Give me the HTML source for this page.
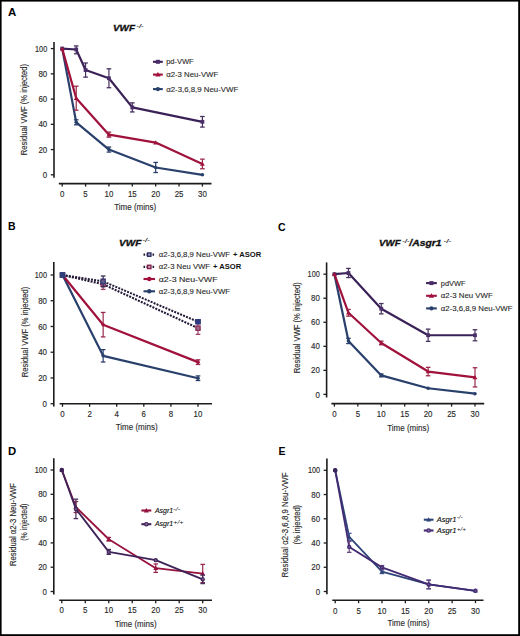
<!DOCTYPE html>
<html><head><meta charset="utf-8"><title>Figure</title>
<style>
html,body{margin:0;padding:0;background:#fff;}
body{width:520px;height:636px;overflow:hidden;}
svg{display:block;font-family:"Liberation Sans", sans-serif;}
</style></head><body>
<svg width="520" height="636" viewBox="0 0 520 636">
<rect x="0" y="0" width="520" height="636" fill="#ffffff"/>
<text x="8" y="16.4" font-size="11.5" text-anchor="start" font-weight="bold" font-style="normal" fill="#000" textLength="8.3" lengthAdjust="spacingAndGlyphs">A</text>
<text x="113" y="30.7" font-size="9.8" text-anchor="start" font-weight="bold" font-style="italic" fill="#111" textLength="22" lengthAdjust="spacingAndGlyphs" stroke="#111" stroke-width="0.35">VWF</text>
<text x="136.4" y="27.6" font-size="6" text-anchor="start" font-weight="bold" font-style="italic" fill="#222" textLength="7.3" lengthAdjust="spacingAndGlyphs">-/-</text>
<line x1="54" y1="42" x2="54" y2="177.7" stroke="#1c1c1c" stroke-width="1.6"/>
<line x1="50.8" y1="174.8" x2="54" y2="174.8" stroke="#1c1c1c" stroke-width="1.3"/>
<text x="47.2" y="177.9" font-size="8.6" text-anchor="end" font-weight="normal" font-style="normal" fill="#2a2a2a" textLength="4.4" lengthAdjust="spacingAndGlyphs" stroke="#2a2a2a" stroke-width="0.14">0</text>
<line x1="50.8" y1="149.56" x2="54" y2="149.56" stroke="#1c1c1c" stroke-width="1.3"/>
<text x="47.2" y="152.66" font-size="8.6" text-anchor="end" font-weight="normal" font-style="normal" fill="#2a2a2a" textLength="8.8" lengthAdjust="spacingAndGlyphs" stroke="#2a2a2a" stroke-width="0.14">20</text>
<line x1="50.8" y1="124.32" x2="54" y2="124.32" stroke="#1c1c1c" stroke-width="1.3"/>
<text x="47.2" y="127.42" font-size="8.6" text-anchor="end" font-weight="normal" font-style="normal" fill="#2a2a2a" textLength="8.8" lengthAdjust="spacingAndGlyphs" stroke="#2a2a2a" stroke-width="0.14">40</text>
<line x1="50.8" y1="99.08" x2="54" y2="99.08" stroke="#1c1c1c" stroke-width="1.3"/>
<text x="47.2" y="102.18" font-size="8.6" text-anchor="end" font-weight="normal" font-style="normal" fill="#2a2a2a" textLength="8.8" lengthAdjust="spacingAndGlyphs" stroke="#2a2a2a" stroke-width="0.14">60</text>
<line x1="50.8" y1="73.84" x2="54" y2="73.84" stroke="#1c1c1c" stroke-width="1.3"/>
<text x="47.2" y="76.94" font-size="8.6" text-anchor="end" font-weight="normal" font-style="normal" fill="#2a2a2a" textLength="8.8" lengthAdjust="spacingAndGlyphs" stroke="#2a2a2a" stroke-width="0.14">80</text>
<line x1="50.8" y1="48.6" x2="54" y2="48.6" stroke="#1c1c1c" stroke-width="1.3"/>
<text x="47.2" y="51.7" font-size="8.6" text-anchor="end" font-weight="normal" font-style="normal" fill="#2a2a2a" textLength="12.2" lengthAdjust="spacingAndGlyphs" stroke="#2a2a2a" stroke-width="0.14">100</text>
<line x1="58.8" y1="183.6" x2="211.5" y2="183.6" stroke="#1c1c1c" stroke-width="1.6"/>
<line x1="62.2" y1="183.6" x2="62.2" y2="186.6" stroke="#1c1c1c" stroke-width="1.3"/>
<text x="62.2" y="196.9" font-size="8.6" text-anchor="middle" font-weight="normal" font-style="normal" fill="#2a2a2a" textLength="4.4" lengthAdjust="spacingAndGlyphs" stroke="#2a2a2a" stroke-width="0.14">0</text>
<line x1="85.57" y1="183.6" x2="85.57" y2="186.6" stroke="#1c1c1c" stroke-width="1.3"/>
<text x="85.57" y="196.9" font-size="8.6" text-anchor="middle" font-weight="normal" font-style="normal" fill="#2a2a2a" textLength="4.4" lengthAdjust="spacingAndGlyphs" stroke="#2a2a2a" stroke-width="0.14">5</text>
<line x1="108.93" y1="183.6" x2="108.93" y2="186.6" stroke="#1c1c1c" stroke-width="1.3"/>
<text x="108.93" y="196.9" font-size="8.6" text-anchor="middle" font-weight="normal" font-style="normal" fill="#2a2a2a" textLength="8.8" lengthAdjust="spacingAndGlyphs" stroke="#2a2a2a" stroke-width="0.14">10</text>
<line x1="132.3" y1="183.6" x2="132.3" y2="186.6" stroke="#1c1c1c" stroke-width="1.3"/>
<text x="132.3" y="196.9" font-size="8.6" text-anchor="middle" font-weight="normal" font-style="normal" fill="#2a2a2a" textLength="8.8" lengthAdjust="spacingAndGlyphs" stroke="#2a2a2a" stroke-width="0.14">15</text>
<line x1="155.67" y1="183.6" x2="155.67" y2="186.6" stroke="#1c1c1c" stroke-width="1.3"/>
<text x="155.67" y="196.9" font-size="8.6" text-anchor="middle" font-weight="normal" font-style="normal" fill="#2a2a2a" textLength="8.8" lengthAdjust="spacingAndGlyphs" stroke="#2a2a2a" stroke-width="0.14">20</text>
<line x1="179.03" y1="183.6" x2="179.03" y2="186.6" stroke="#1c1c1c" stroke-width="1.3"/>
<text x="179.03" y="196.9" font-size="8.6" text-anchor="middle" font-weight="normal" font-style="normal" fill="#2a2a2a" textLength="8.8" lengthAdjust="spacingAndGlyphs" stroke="#2a2a2a" stroke-width="0.14">25</text>
<line x1="202.4" y1="183.6" x2="202.4" y2="186.6" stroke="#1c1c1c" stroke-width="1.3"/>
<text x="202.4" y="196.9" font-size="8.6" text-anchor="middle" font-weight="normal" font-style="normal" fill="#2a2a2a" textLength="8.8" lengthAdjust="spacingAndGlyphs" stroke="#2a2a2a" stroke-width="0.14">30</text>
<text x="135.2" y="210.1" font-size="9.4" text-anchor="middle" font-weight="normal" font-style="normal" fill="#2a2a2a" textLength="42" lengthAdjust="spacingAndGlyphs" stroke="#2a2a2a" stroke-width="0.14">Time (mins)</text>
<text x="27.2" y="109.6" font-size="9.2" text-anchor="middle" font-weight="normal" font-style="normal" fill="#2a2a2a" textLength="91.5" lengthAdjust="spacingAndGlyphs" stroke="#2a2a2a" stroke-width="0.14" transform="rotate(-90 27.2 109.6)">Residual VWF (% injected)</text>
<polyline points="62.2,48.6 76.22,49.48 85.57,70.05 108.93,78.26 132.3,107.41 202.4,121.8" fill="none" stroke="#3a2158" stroke-width="2.2" stroke-linejoin="round"/>
<line x1="76.22" y1="45.95" x2="76.22" y2="53.77" stroke="#46305e" stroke-width="1.2"/>
<line x1="73.92" y1="45.95" x2="78.52" y2="45.95" stroke="#46305e" stroke-width="1.3"/>
<line x1="73.92" y1="53.77" x2="78.52" y2="53.77" stroke="#46305e" stroke-width="1.3"/>
<line x1="85.57" y1="62.99" x2="85.57" y2="77.12" stroke="#46305e" stroke-width="1.2"/>
<line x1="83.27" y1="62.99" x2="87.87" y2="62.99" stroke="#46305e" stroke-width="1.3"/>
<line x1="83.27" y1="77.12" x2="87.87" y2="77.12" stroke="#46305e" stroke-width="1.3"/>
<line x1="108.93" y1="68.79" x2="108.93" y2="87.72" stroke="#46305e" stroke-width="1.2"/>
<line x1="106.63" y1="68.79" x2="111.23" y2="68.79" stroke="#46305e" stroke-width="1.3"/>
<line x1="106.63" y1="87.72" x2="111.23" y2="87.72" stroke="#46305e" stroke-width="1.3"/>
<line x1="132.3" y1="102.87" x2="132.3" y2="111.95" stroke="#46305e" stroke-width="1.2"/>
<line x1="130" y1="102.87" x2="134.6" y2="102.87" stroke="#46305e" stroke-width="1.3"/>
<line x1="130" y1="111.95" x2="134.6" y2="111.95" stroke="#46305e" stroke-width="1.3"/>
<line x1="202.4" y1="116.5" x2="202.4" y2="127.1" stroke="#46305e" stroke-width="1.2"/>
<line x1="200.1" y1="116.5" x2="204.7" y2="116.5" stroke="#46305e" stroke-width="1.3"/>
<line x1="200.1" y1="127.1" x2="204.7" y2="127.1" stroke="#46305e" stroke-width="1.3"/>
<rect x="60.3" y="46.7" width="3.8" height="3.8" fill="#4a2e6a"/>
<rect x="74.32" y="47.58" width="3.8" height="3.8" fill="#4a2e6a"/>
<rect x="83.67" y="68.15" width="3.8" height="3.8" fill="#4a2e6a"/>
<rect x="107.03" y="76.36" width="3.8" height="3.8" fill="#4a2e6a"/>
<rect x="130.4" y="105.51" width="3.8" height="3.8" fill="#4a2e6a"/>
<rect x="200.5" y="119.9" width="3.8" height="3.8" fill="#4a2e6a"/>
<polyline points="62.2,48.6 76.22,122.3 108.93,149.56 155.67,167.48 202.4,174.8" fill="none" stroke="#2a406c" stroke-width="2.2" stroke-linejoin="round"/>
<line x1="76.22" y1="119.78" x2="76.22" y2="124.82" stroke="#2a406c" stroke-width="1.2"/>
<line x1="73.92" y1="119.78" x2="78.52" y2="119.78" stroke="#2a406c" stroke-width="1.3"/>
<line x1="73.92" y1="124.82" x2="78.52" y2="124.82" stroke="#2a406c" stroke-width="1.3"/>
<line x1="108.93" y1="147.04" x2="108.93" y2="152.08" stroke="#2a406c" stroke-width="1.2"/>
<line x1="106.63" y1="147.04" x2="111.23" y2="147.04" stroke="#2a406c" stroke-width="1.3"/>
<line x1="106.63" y1="152.08" x2="111.23" y2="152.08" stroke="#2a406c" stroke-width="1.3"/>
<line x1="155.67" y1="162.43" x2="155.67" y2="172.53" stroke="#2a406c" stroke-width="1.2"/>
<line x1="153.37" y1="162.43" x2="157.97" y2="162.43" stroke="#2a406c" stroke-width="1.3"/>
<line x1="153.37" y1="172.53" x2="157.97" y2="172.53" stroke="#2a406c" stroke-width="1.3"/>
<circle cx="62.2" cy="48.6" r="1.8" fill="#2a406c"/>
<circle cx="76.22" cy="122.3" r="1.8" fill="#2a406c"/>
<circle cx="108.93" cy="149.56" r="1.8" fill="#2a406c"/>
<circle cx="155.67" cy="167.48" r="1.8" fill="#2a406c"/>
<circle cx="202.4" cy="174.8" r="1.8" fill="#2a406c"/>
<polyline points="62.2,48.6 76.22,98.2 108.93,134.67 155.67,142.62 202.4,163.95" fill="none" stroke="#a0113b" stroke-width="2.2" stroke-linejoin="round"/>
<line x1="76.22" y1="86.21" x2="76.22" y2="110.19" stroke="#9a2a4c" stroke-width="1.2"/>
<line x1="73.92" y1="86.21" x2="78.52" y2="86.21" stroke="#9a2a4c" stroke-width="1.3"/>
<line x1="73.92" y1="110.19" x2="78.52" y2="110.19" stroke="#9a2a4c" stroke-width="1.3"/>
<line x1="108.93" y1="132.14" x2="108.93" y2="137.19" stroke="#9a2a4c" stroke-width="1.2"/>
<line x1="106.63" y1="132.14" x2="111.23" y2="132.14" stroke="#9a2a4c" stroke-width="1.3"/>
<line x1="106.63" y1="137.19" x2="111.23" y2="137.19" stroke="#9a2a4c" stroke-width="1.3"/>
<line x1="202.4" y1="159.15" x2="202.4" y2="168.74" stroke="#9a2a4c" stroke-width="1.2"/>
<line x1="200.1" y1="159.15" x2="204.7" y2="159.15" stroke="#9a2a4c" stroke-width="1.3"/>
<line x1="200.1" y1="168.74" x2="204.7" y2="168.74" stroke="#9a2a4c" stroke-width="1.3"/>
<path d="M62.2 46.21L64.6 50.4L59.8 50.4Z" fill="#a0113b"/>
<path d="M76.22 95.8L78.62 99.99L73.82 99.99Z" fill="#a0113b"/>
<path d="M108.93 132.27L111.33 136.46L106.53 136.46Z" fill="#a0113b"/>
<path d="M155.67 140.22L158.07 144.41L153.27 144.41Z" fill="#a0113b"/>
<path d="M202.4 161.55L204.8 165.74L200 165.74Z" fill="#a0113b"/>
<line x1="153" y1="61.8" x2="162.8" y2="61.8" stroke="#3a2158" stroke-width="2.1"/>
<rect x="155.9" y="59.8" width="4" height="4" fill="#4a2e6a"/>
<text x="166.2" y="64.3" font-size="8" fill="#2a2a2a" stroke="#2a2a2a" stroke-width="0.12" textLength="27.5" lengthAdjust="spacingAndGlyphs">pd-VWF</text>
<line x1="153" y1="74.6" x2="162.8" y2="74.6" stroke="#a0113b" stroke-width="2.1"/>
<path d="M157.9 71.98L160.5 76.57L155.3 76.57Z" fill="#a0113b"/>
<text x="166.2" y="77.1" font-size="8" fill="#2a2a2a" stroke="#2a2a2a" stroke-width="0.12" textLength="52" lengthAdjust="spacingAndGlyphs">α2-3 Neu-VWF</text>
<line x1="153" y1="89.1" x2="162.8" y2="89.1" stroke="#2a406c" stroke-width="2.1"/>
<circle cx="157.9" cy="89.1" r="2.1" fill="#2a406c"/>
<text x="166.2" y="91.6" font-size="8" fill="#2a2a2a" stroke="#2a2a2a" stroke-width="0.12" textLength="72" lengthAdjust="spacingAndGlyphs">α2-3,6,8,9 Neu-VWF</text>
<text x="8" y="230.4" font-size="11.5" text-anchor="start" font-weight="bold" font-style="normal" fill="#000" textLength="7.6" lengthAdjust="spacingAndGlyphs">B</text>
<text x="119" y="245.5" font-size="9.8" text-anchor="start" font-weight="bold" font-style="italic" fill="#111" textLength="22.3" lengthAdjust="spacingAndGlyphs" stroke="#111" stroke-width="0.35">VWF</text>
<text x="142.5" y="242.4" font-size="6" text-anchor="start" font-weight="bold" font-style="italic" fill="#222" textLength="7.3" lengthAdjust="spacingAndGlyphs">-/-</text>
<line x1="53.8" y1="262" x2="53.8" y2="406.5" stroke="#1c1c1c" stroke-width="1.6"/>
<line x1="50.6" y1="403.7" x2="53.8" y2="403.7" stroke="#1c1c1c" stroke-width="1.3"/>
<text x="47" y="406.8" font-size="8.6" text-anchor="end" font-weight="normal" font-style="normal" fill="#2a2a2a" textLength="4.4" lengthAdjust="spacingAndGlyphs" stroke="#2a2a2a" stroke-width="0.14">0</text>
<line x1="50.6" y1="377.96" x2="53.8" y2="377.96" stroke="#1c1c1c" stroke-width="1.3"/>
<text x="47" y="381.06" font-size="8.6" text-anchor="end" font-weight="normal" font-style="normal" fill="#2a2a2a" textLength="8.8" lengthAdjust="spacingAndGlyphs" stroke="#2a2a2a" stroke-width="0.14">20</text>
<line x1="50.6" y1="352.22" x2="53.8" y2="352.22" stroke="#1c1c1c" stroke-width="1.3"/>
<text x="47" y="355.32" font-size="8.6" text-anchor="end" font-weight="normal" font-style="normal" fill="#2a2a2a" textLength="8.8" lengthAdjust="spacingAndGlyphs" stroke="#2a2a2a" stroke-width="0.14">40</text>
<line x1="50.6" y1="326.48" x2="53.8" y2="326.48" stroke="#1c1c1c" stroke-width="1.3"/>
<text x="47" y="329.58" font-size="8.6" text-anchor="end" font-weight="normal" font-style="normal" fill="#2a2a2a" textLength="8.8" lengthAdjust="spacingAndGlyphs" stroke="#2a2a2a" stroke-width="0.14">60</text>
<line x1="50.6" y1="300.74" x2="53.8" y2="300.74" stroke="#1c1c1c" stroke-width="1.3"/>
<text x="47" y="303.84" font-size="8.6" text-anchor="end" font-weight="normal" font-style="normal" fill="#2a2a2a" textLength="8.8" lengthAdjust="spacingAndGlyphs" stroke="#2a2a2a" stroke-width="0.14">80</text>
<line x1="50.6" y1="275" x2="53.8" y2="275" stroke="#1c1c1c" stroke-width="1.3"/>
<text x="47" y="278.1" font-size="8.6" text-anchor="end" font-weight="normal" font-style="normal" fill="#2a2a2a" textLength="12.2" lengthAdjust="spacingAndGlyphs" stroke="#2a2a2a" stroke-width="0.14">100</text>
<line x1="59.6" y1="403.8" x2="212" y2="403.8" stroke="#1c1c1c" stroke-width="1.6"/>
<line x1="62.5" y1="403.8" x2="62.5" y2="406.8" stroke="#1c1c1c" stroke-width="1.3"/>
<text x="62.5" y="417.3" font-size="8.6" text-anchor="middle" font-weight="normal" font-style="normal" fill="#2a2a2a" textLength="4.4" lengthAdjust="spacingAndGlyphs" stroke="#2a2a2a" stroke-width="0.14">0</text>
<line x1="89.6" y1="403.8" x2="89.6" y2="406.8" stroke="#1c1c1c" stroke-width="1.3"/>
<text x="89.6" y="417.3" font-size="8.6" text-anchor="middle" font-weight="normal" font-style="normal" fill="#2a2a2a" textLength="4.4" lengthAdjust="spacingAndGlyphs" stroke="#2a2a2a" stroke-width="0.14">2</text>
<line x1="116.7" y1="403.8" x2="116.7" y2="406.8" stroke="#1c1c1c" stroke-width="1.3"/>
<text x="116.7" y="417.3" font-size="8.6" text-anchor="middle" font-weight="normal" font-style="normal" fill="#2a2a2a" textLength="4.4" lengthAdjust="spacingAndGlyphs" stroke="#2a2a2a" stroke-width="0.14">4</text>
<line x1="143.8" y1="403.8" x2="143.8" y2="406.8" stroke="#1c1c1c" stroke-width="1.3"/>
<text x="143.8" y="417.3" font-size="8.6" text-anchor="middle" font-weight="normal" font-style="normal" fill="#2a2a2a" textLength="4.4" lengthAdjust="spacingAndGlyphs" stroke="#2a2a2a" stroke-width="0.14">6</text>
<line x1="170.9" y1="403.8" x2="170.9" y2="406.8" stroke="#1c1c1c" stroke-width="1.3"/>
<text x="170.9" y="417.3" font-size="8.6" text-anchor="middle" font-weight="normal" font-style="normal" fill="#2a2a2a" textLength="4.4" lengthAdjust="spacingAndGlyphs" stroke="#2a2a2a" stroke-width="0.14">8</text>
<line x1="198" y1="403.8" x2="198" y2="406.8" stroke="#1c1c1c" stroke-width="1.3"/>
<text x="198" y="417.3" font-size="8.6" text-anchor="middle" font-weight="normal" font-style="normal" fill="#2a2a2a" textLength="8.8" lengthAdjust="spacingAndGlyphs" stroke="#2a2a2a" stroke-width="0.14">10</text>
<text x="136.7" y="430.4" font-size="9.4" text-anchor="middle" font-weight="normal" font-style="normal" fill="#2a2a2a" textLength="42" lengthAdjust="spacingAndGlyphs" stroke="#2a2a2a" stroke-width="0.14">Time (mins)</text>
<text x="28" y="332" font-size="9.2" text-anchor="middle" font-weight="normal" font-style="normal" fill="#2a2a2a" textLength="90.5" lengthAdjust="spacingAndGlyphs" stroke="#2a2a2a" stroke-width="0.14" transform="rotate(-90 28 332)">Residual VWF (% injected)</text>
<polyline points="62.5,275 103.15,355.82 198,378.22" fill="none" stroke="#2a406c" stroke-width="2.2" stroke-linejoin="round"/>
<line x1="103.15" y1="349.65" x2="103.15" y2="362" stroke="#2a406c" stroke-width="1.2"/>
<line x1="100.85" y1="349.65" x2="105.45" y2="349.65" stroke="#2a406c" stroke-width="1.3"/>
<line x1="100.85" y1="362" x2="105.45" y2="362" stroke="#2a406c" stroke-width="1.3"/>
<line x1="198" y1="375.9" x2="198" y2="380.53" stroke="#2a406c" stroke-width="1.2"/>
<line x1="195.7" y1="375.9" x2="200.3" y2="375.9" stroke="#2a406c" stroke-width="1.3"/>
<line x1="195.7" y1="380.53" x2="200.3" y2="380.53" stroke="#2a406c" stroke-width="1.3"/>
<circle cx="62.5" cy="275" r="1.8" fill="#2a406c"/>
<circle cx="103.15" cy="355.82" r="1.8" fill="#2a406c"/>
<circle cx="198" cy="378.22" r="1.8" fill="#2a406c"/>
<polyline points="62.5,275 103.15,324.68 198,362.13" fill="none" stroke="#a0113b" stroke-width="2.2" stroke-linejoin="round"/>
<line x1="103.15" y1="312.45" x2="103.15" y2="336.9" stroke="#9a2a4c" stroke-width="1.2"/>
<line x1="100.85" y1="312.45" x2="105.45" y2="312.45" stroke="#9a2a4c" stroke-width="1.3"/>
<line x1="100.85" y1="336.9" x2="105.45" y2="336.9" stroke="#9a2a4c" stroke-width="1.3"/>
<line x1="198" y1="359.81" x2="198" y2="364.45" stroke="#9a2a4c" stroke-width="1.2"/>
<line x1="195.7" y1="359.81" x2="200.3" y2="359.81" stroke="#9a2a4c" stroke-width="1.3"/>
<line x1="195.7" y1="364.45" x2="200.3" y2="364.45" stroke="#9a2a4c" stroke-width="1.3"/>
<circle cx="62.5" cy="275" r="1.8" fill="#a0113b"/>
<circle cx="103.15" cy="324.68" r="1.8" fill="#a0113b"/>
<circle cx="198" cy="362.13" r="1.8" fill="#a0113b"/>
<polyline points="62.5,275 103.15,284.27 198,328.15" fill="none" stroke="#241a38" stroke-width="2.1" stroke-linejoin="round" stroke-dasharray="2 1.2"/>
<line x1="103.15" y1="279.12" x2="103.15" y2="289.41" stroke="#a0406a" stroke-width="1.2"/>
<line x1="100.85" y1="279.12" x2="105.45" y2="279.12" stroke="#a0406a" stroke-width="1.3"/>
<line x1="100.85" y1="289.41" x2="105.45" y2="289.41" stroke="#a0406a" stroke-width="1.3"/>
<line x1="198" y1="321.98" x2="198" y2="334.33" stroke="#a0406a" stroke-width="1.2"/>
<line x1="195.7" y1="321.98" x2="200.3" y2="321.98" stroke="#a0406a" stroke-width="1.3"/>
<line x1="195.7" y1="334.33" x2="200.3" y2="334.33" stroke="#a0406a" stroke-width="1.3"/>
<rect x="60.4" y="272.9" width="4.2" height="4.2" fill="#a47090" stroke="#8a2a55" stroke-width="1.3"/>
<rect x="101.05" y="282.17" width="4.2" height="4.2" fill="#a47090" stroke="#8a2a55" stroke-width="1.3"/>
<rect x="195.9" y="326.05" width="4.2" height="4.2" fill="#a47090" stroke="#8a2a55" stroke-width="1.3"/>
<polyline points="62.5,275 103.15,281.44 198,321.72" fill="none" stroke="#241a38" stroke-width="2.1" stroke-linejoin="round" stroke-dasharray="2 1.2"/>
<line x1="103.15" y1="276.03" x2="103.15" y2="286.84" stroke="#34305a" stroke-width="1.2"/>
<line x1="100.85" y1="276.03" x2="105.45" y2="276.03" stroke="#34305a" stroke-width="1.3"/>
<line x1="100.85" y1="286.84" x2="105.45" y2="286.84" stroke="#34305a" stroke-width="1.3"/>
<line x1="198" y1="320.17" x2="198" y2="323.26" stroke="#34305a" stroke-width="1.2"/>
<line x1="195.7" y1="320.17" x2="200.3" y2="320.17" stroke="#34305a" stroke-width="1.3"/>
<line x1="195.7" y1="323.26" x2="200.3" y2="323.26" stroke="#34305a" stroke-width="1.3"/>
<rect x="60.4" y="272.9" width="4.2" height="4.2" fill="#6a5a8a" stroke="#34407a" stroke-width="1.3"/>
<rect x="101.05" y="279.34" width="4.2" height="4.2" fill="#6a5a8a" stroke="#34407a" stroke-width="1.3"/>
<rect x="195.9" y="319.62" width="4.2" height="4.2" fill="#6a5a8a" stroke="#34407a" stroke-width="1.3"/>
<rect x="59.9" y="272.4" width="5.2" height="5.2" fill="#2e3f78"/>
<rect x="195.5" y="319.22" width="5" height="5" fill="#2e3a80"/>
<line x1="143.5" y1="254.6" x2="155" y2="254.6" stroke="#241a38" stroke-width="2.1" stroke-dasharray="1.6 1.4"/>
<rect x="147.55" y="252.9" width="3.4" height="3.4" fill="#a8a0c8" stroke="#262c5c" stroke-width="1.3"/>
<text x="158.8" y="257.1" font-size="8" fill="#2a2a2a" stroke="#2a2a2a" stroke-width="0.12" textLength="71.3" lengthAdjust="spacingAndGlyphs">α2-3,6,8,9 Neu-VWF</text><text x="233" y="257.1" font-size="8" font-weight="bold" fill="#111" textLength="28.2" lengthAdjust="spacingAndGlyphs">+ ASOR</text>
<line x1="143.5" y1="266.9" x2="155" y2="266.9" stroke="#241a38" stroke-width="2.1" stroke-dasharray="1.6 1.4"/>
<rect x="147.55" y="265.2" width="3.4" height="3.4" fill="#d0a0b4" stroke="#7a1a48" stroke-width="1.3"/>
<text x="158.8" y="269.4" font-size="8" fill="#2a2a2a" stroke="#2a2a2a" stroke-width="0.12" textLength="51.3" lengthAdjust="spacingAndGlyphs">α2-3 Neu VWF</text><text x="213" y="269.4" font-size="8" font-weight="bold" fill="#111" textLength="28.2" lengthAdjust="spacingAndGlyphs">+ ASOR</text>
<line x1="143.5" y1="279" x2="155" y2="279" stroke="#a0113b" stroke-width="2.1"/>
<circle cx="149.25" cy="279" r="2.2" fill="#a0113b"/>
<text x="158.8" y="281.5" font-size="8" fill="#2a2a2a" stroke="#2a2a2a" stroke-width="0.12" textLength="58.7" lengthAdjust="spacingAndGlyphs">α2-3 Neu-VWF</text>
<line x1="143.5" y1="291.3" x2="155" y2="291.3" stroke="#2a406c" stroke-width="2.1"/>
<circle cx="149.25" cy="291.3" r="2.2" fill="#2a406c"/>
<text x="158.8" y="293.8" font-size="8" fill="#2a2a2a" stroke="#2a2a2a" stroke-width="0.12" textLength="71.3" lengthAdjust="spacingAndGlyphs">α2-3,6,8,9 Neu-VWF</text>
<text x="278" y="230.8" font-size="11.5" text-anchor="start" font-weight="bold" font-style="normal" fill="#000" textLength="7.6" lengthAdjust="spacingAndGlyphs">C</text>
<text x="379.1" y="245.7" font-size="9.8" text-anchor="start" font-weight="bold" font-style="italic" fill="#111" textLength="21.5" lengthAdjust="spacingAndGlyphs" stroke="#111" stroke-width="0.35">VWF</text>
<text x="402.2" y="242.5" font-size="6" text-anchor="start" font-weight="bold" font-style="italic" fill="#222" textLength="7.3" lengthAdjust="spacingAndGlyphs">-/-</text>
<text x="409.3" y="245.7" font-size="9.8" text-anchor="start" font-weight="bold" font-style="italic" fill="#111" textLength="32.2" lengthAdjust="spacingAndGlyphs" stroke="#111" stroke-width="0.35">/Asgr1</text>
<text x="443.6" y="242.5" font-size="6" text-anchor="start" font-weight="bold" font-style="italic" fill="#222" textLength="7.6" lengthAdjust="spacingAndGlyphs">-/-</text>
<line x1="326.6" y1="262.4" x2="326.6" y2="397.5" stroke="#1c1c1c" stroke-width="1.6"/>
<line x1="323.4" y1="394.4" x2="326.6" y2="394.4" stroke="#1c1c1c" stroke-width="1.3"/>
<text x="319.8" y="397.5" font-size="8.6" text-anchor="end" font-weight="normal" font-style="normal" fill="#2a2a2a" textLength="4.4" lengthAdjust="spacingAndGlyphs" stroke="#2a2a2a" stroke-width="0.14">0</text>
<line x1="323.4" y1="370.36" x2="326.6" y2="370.36" stroke="#1c1c1c" stroke-width="1.3"/>
<text x="319.8" y="373.46" font-size="8.6" text-anchor="end" font-weight="normal" font-style="normal" fill="#2a2a2a" textLength="8.8" lengthAdjust="spacingAndGlyphs" stroke="#2a2a2a" stroke-width="0.14">20</text>
<line x1="323.4" y1="346.32" x2="326.6" y2="346.32" stroke="#1c1c1c" stroke-width="1.3"/>
<text x="319.8" y="349.42" font-size="8.6" text-anchor="end" font-weight="normal" font-style="normal" fill="#2a2a2a" textLength="8.8" lengthAdjust="spacingAndGlyphs" stroke="#2a2a2a" stroke-width="0.14">40</text>
<line x1="323.4" y1="322.28" x2="326.6" y2="322.28" stroke="#1c1c1c" stroke-width="1.3"/>
<text x="319.8" y="325.38" font-size="8.6" text-anchor="end" font-weight="normal" font-style="normal" fill="#2a2a2a" textLength="8.8" lengthAdjust="spacingAndGlyphs" stroke="#2a2a2a" stroke-width="0.14">60</text>
<line x1="323.4" y1="298.24" x2="326.6" y2="298.24" stroke="#1c1c1c" stroke-width="1.3"/>
<text x="319.8" y="301.34" font-size="8.6" text-anchor="end" font-weight="normal" font-style="normal" fill="#2a2a2a" textLength="8.8" lengthAdjust="spacingAndGlyphs" stroke="#2a2a2a" stroke-width="0.14">80</text>
<line x1="323.4" y1="274.2" x2="326.6" y2="274.2" stroke="#1c1c1c" stroke-width="1.3"/>
<text x="319.8" y="277.3" font-size="8.6" text-anchor="end" font-weight="normal" font-style="normal" fill="#2a2a2a" textLength="12.2" lengthAdjust="spacingAndGlyphs" stroke="#2a2a2a" stroke-width="0.14">100</text>
<line x1="331.4" y1="403.6" x2="484.2" y2="403.6" stroke="#1c1c1c" stroke-width="1.6"/>
<line x1="334.4" y1="403.6" x2="334.4" y2="406.6" stroke="#1c1c1c" stroke-width="1.3"/>
<text x="334.4" y="416.8" font-size="8.6" text-anchor="middle" font-weight="normal" font-style="normal" fill="#2a2a2a" textLength="4.4" lengthAdjust="spacingAndGlyphs" stroke="#2a2a2a" stroke-width="0.14">0</text>
<line x1="357.83" y1="403.6" x2="357.83" y2="406.6" stroke="#1c1c1c" stroke-width="1.3"/>
<text x="357.83" y="416.8" font-size="8.6" text-anchor="middle" font-weight="normal" font-style="normal" fill="#2a2a2a" textLength="4.4" lengthAdjust="spacingAndGlyphs" stroke="#2a2a2a" stroke-width="0.14">5</text>
<line x1="381.27" y1="403.6" x2="381.27" y2="406.6" stroke="#1c1c1c" stroke-width="1.3"/>
<text x="381.27" y="416.8" font-size="8.6" text-anchor="middle" font-weight="normal" font-style="normal" fill="#2a2a2a" textLength="8.8" lengthAdjust="spacingAndGlyphs" stroke="#2a2a2a" stroke-width="0.14">10</text>
<line x1="404.7" y1="403.6" x2="404.7" y2="406.6" stroke="#1c1c1c" stroke-width="1.3"/>
<text x="404.7" y="416.8" font-size="8.6" text-anchor="middle" font-weight="normal" font-style="normal" fill="#2a2a2a" textLength="8.8" lengthAdjust="spacingAndGlyphs" stroke="#2a2a2a" stroke-width="0.14">15</text>
<line x1="428.13" y1="403.6" x2="428.13" y2="406.6" stroke="#1c1c1c" stroke-width="1.3"/>
<text x="428.13" y="416.8" font-size="8.6" text-anchor="middle" font-weight="normal" font-style="normal" fill="#2a2a2a" textLength="8.8" lengthAdjust="spacingAndGlyphs" stroke="#2a2a2a" stroke-width="0.14">20</text>
<line x1="451.57" y1="403.6" x2="451.57" y2="406.6" stroke="#1c1c1c" stroke-width="1.3"/>
<text x="451.57" y="416.8" font-size="8.6" text-anchor="middle" font-weight="normal" font-style="normal" fill="#2a2a2a" textLength="8.8" lengthAdjust="spacingAndGlyphs" stroke="#2a2a2a" stroke-width="0.14">25</text>
<line x1="475" y1="403.6" x2="475" y2="406.6" stroke="#1c1c1c" stroke-width="1.3"/>
<text x="475" y="416.8" font-size="8.6" text-anchor="middle" font-weight="normal" font-style="normal" fill="#2a2a2a" textLength="8.8" lengthAdjust="spacingAndGlyphs" stroke="#2a2a2a" stroke-width="0.14">30</text>
<text x="408.2" y="430.5" font-size="9.4" text-anchor="middle" font-weight="normal" font-style="normal" fill="#2a2a2a" textLength="42" lengthAdjust="spacingAndGlyphs" stroke="#2a2a2a" stroke-width="0.14">Time (mins)</text>
<text x="300.3" y="327.7" font-size="9.2" text-anchor="middle" font-weight="normal" font-style="normal" fill="#2a2a2a" textLength="91" lengthAdjust="spacingAndGlyphs" stroke="#2a2a2a" stroke-width="0.14" transform="rotate(-90 300.3 327.7)">Residual VWF (% injected)</text>
<polyline points="334.4,274.2 348.46,273 381.27,308.7 428.13,335.26 475,335.26" fill="none" stroke="#3a2158" stroke-width="2.2" stroke-linejoin="round"/>
<line x1="348.46" y1="268.43" x2="348.46" y2="277.57" stroke="#46305e" stroke-width="1.2"/>
<line x1="346.16" y1="268.43" x2="350.76" y2="268.43" stroke="#46305e" stroke-width="1.3"/>
<line x1="346.16" y1="277.57" x2="350.76" y2="277.57" stroke="#46305e" stroke-width="1.3"/>
<line x1="381.27" y1="303.53" x2="381.27" y2="313.87" stroke="#46305e" stroke-width="1.2"/>
<line x1="378.97" y1="303.53" x2="383.57" y2="303.53" stroke="#46305e" stroke-width="1.3"/>
<line x1="378.97" y1="313.87" x2="383.57" y2="313.87" stroke="#46305e" stroke-width="1.3"/>
<line x1="428.13" y1="329.13" x2="428.13" y2="341.39" stroke="#46305e" stroke-width="1.2"/>
<line x1="425.83" y1="329.13" x2="430.43" y2="329.13" stroke="#46305e" stroke-width="1.3"/>
<line x1="425.83" y1="341.39" x2="430.43" y2="341.39" stroke="#46305e" stroke-width="1.3"/>
<line x1="475" y1="329.73" x2="475" y2="340.79" stroke="#46305e" stroke-width="1.2"/>
<line x1="472.7" y1="329.73" x2="477.3" y2="329.73" stroke="#46305e" stroke-width="1.3"/>
<line x1="472.7" y1="340.79" x2="477.3" y2="340.79" stroke="#46305e" stroke-width="1.3"/>
<rect x="332.5" y="272.3" width="3.8" height="3.8" fill="#4a2e6a"/>
<rect x="346.56" y="271.1" width="3.8" height="3.8" fill="#4a2e6a"/>
<rect x="379.37" y="306.8" width="3.8" height="3.8" fill="#4a2e6a"/>
<rect x="426.23" y="333.36" width="3.8" height="3.8" fill="#4a2e6a"/>
<rect x="473.1" y="333.36" width="3.8" height="3.8" fill="#4a2e6a"/>
<polyline points="334.4,274.2 348.46,340.91 381.27,375.41 428.13,388.27 475,393.68" fill="none" stroke="#2a406c" stroke-width="2.2" stroke-linejoin="round"/>
<line x1="348.46" y1="338.27" x2="348.46" y2="343.56" stroke="#2a406c" stroke-width="1.2"/>
<line x1="346.16" y1="338.27" x2="350.76" y2="338.27" stroke="#2a406c" stroke-width="1.3"/>
<line x1="346.16" y1="343.56" x2="350.76" y2="343.56" stroke="#2a406c" stroke-width="1.3"/>
<line x1="381.27" y1="373.97" x2="381.27" y2="376.85" stroke="#2a406c" stroke-width="1.2"/>
<line x1="378.97" y1="373.97" x2="383.57" y2="373.97" stroke="#2a406c" stroke-width="1.3"/>
<line x1="378.97" y1="376.85" x2="383.57" y2="376.85" stroke="#2a406c" stroke-width="1.3"/>
<circle cx="334.4" cy="274.2" r="1.8" fill="#2a406c"/>
<circle cx="348.46" cy="340.91" r="1.8" fill="#2a406c"/>
<circle cx="381.27" cy="375.41" r="1.8" fill="#2a406c"/>
<circle cx="428.13" cy="388.27" r="1.8" fill="#2a406c"/>
<circle cx="475" cy="393.68" r="1.8" fill="#2a406c"/>
<polyline points="334.4,274.2 348.46,312.78 381.27,342.95 428.13,371.56 475,377.33" fill="none" stroke="#a0113b" stroke-width="2.2" stroke-linejoin="round"/>
<line x1="348.46" y1="309.42" x2="348.46" y2="316.15" stroke="#9a2a4c" stroke-width="1.2"/>
<line x1="346.16" y1="309.42" x2="350.76" y2="309.42" stroke="#9a2a4c" stroke-width="1.3"/>
<line x1="346.16" y1="316.15" x2="350.76" y2="316.15" stroke="#9a2a4c" stroke-width="1.3"/>
<line x1="381.27" y1="341.15" x2="381.27" y2="344.76" stroke="#9a2a4c" stroke-width="1.2"/>
<line x1="378.97" y1="341.15" x2="383.57" y2="341.15" stroke="#9a2a4c" stroke-width="1.3"/>
<line x1="378.97" y1="344.76" x2="383.57" y2="344.76" stroke="#9a2a4c" stroke-width="1.3"/>
<line x1="428.13" y1="367.35" x2="428.13" y2="375.77" stroke="#9a2a4c" stroke-width="1.2"/>
<line x1="425.83" y1="367.35" x2="430.43" y2="367.35" stroke="#9a2a4c" stroke-width="1.3"/>
<line x1="425.83" y1="375.77" x2="430.43" y2="375.77" stroke="#9a2a4c" stroke-width="1.3"/>
<line x1="475" y1="367.72" x2="475" y2="386.95" stroke="#9a2a4c" stroke-width="1.2"/>
<line x1="472.7" y1="367.72" x2="477.3" y2="367.72" stroke="#9a2a4c" stroke-width="1.3"/>
<line x1="472.7" y1="386.95" x2="477.3" y2="386.95" stroke="#9a2a4c" stroke-width="1.3"/>
<path d="M334.4 271.81L336.8 276L332 276Z" fill="#a0113b"/>
<path d="M348.46 310.39L350.86 314.58L346.06 314.58Z" fill="#a0113b"/>
<path d="M381.27 340.56L383.67 344.75L378.87 344.75Z" fill="#a0113b"/>
<path d="M428.13 369.17L430.53 373.36L425.73 373.36Z" fill="#a0113b"/>
<path d="M475 374.94L477.4 379.13L472.6 379.13Z" fill="#a0113b"/>
<line x1="426.1" y1="283.1" x2="436.8" y2="283.1" stroke="#3a2158" stroke-width="2.1"/>
<rect x="429.45" y="281.1" width="4" height="4" fill="#4a2e6a"/>
<text x="440.8" y="285.6" font-size="8" fill="#2a2a2a" stroke="#2a2a2a" stroke-width="0.12" textLength="24.7" lengthAdjust="spacingAndGlyphs">pdVWF</text>
<line x1="426.1" y1="295.8" x2="436.8" y2="295.8" stroke="#a0113b" stroke-width="2.1"/>
<path d="M431.45 293.18L434.05 297.77L428.85 297.77Z" fill="#a0113b"/>
<text x="440.8" y="298.3" font-size="8" fill="#2a2a2a" stroke="#2a2a2a" stroke-width="0.12" textLength="51.9" lengthAdjust="spacingAndGlyphs">α2-3 Neu VWF</text>
<line x1="426.1" y1="308.4" x2="436.8" y2="308.4" stroke="#2a406c" stroke-width="2.1"/>
<circle cx="431.45" cy="308.4" r="2.1" fill="#2a406c"/>
<text x="440.8" y="310.9" font-size="8" fill="#2a2a2a" stroke="#2a2a2a" stroke-width="0.12" textLength="71.7" lengthAdjust="spacingAndGlyphs">α2-3,6,8,9 Neu-VWF</text>
<text x="8" y="455" font-size="11.5" text-anchor="start" font-weight="bold" font-style="normal" fill="#000" textLength="8.2" lengthAdjust="spacingAndGlyphs">D</text>
<line x1="53.8" y1="458.2" x2="53.8" y2="594.6" stroke="#1c1c1c" stroke-width="1.6"/>
<line x1="50.6" y1="591.5" x2="53.8" y2="591.5" stroke="#1c1c1c" stroke-width="1.3"/>
<text x="47" y="594.6" font-size="8.6" text-anchor="end" font-weight="normal" font-style="normal" fill="#2a2a2a" textLength="4.4" lengthAdjust="spacingAndGlyphs" stroke="#2a2a2a" stroke-width="0.14">0</text>
<line x1="50.6" y1="567.2" x2="53.8" y2="567.2" stroke="#1c1c1c" stroke-width="1.3"/>
<text x="47" y="570.3" font-size="8.6" text-anchor="end" font-weight="normal" font-style="normal" fill="#2a2a2a" textLength="8.8" lengthAdjust="spacingAndGlyphs" stroke="#2a2a2a" stroke-width="0.14">20</text>
<line x1="50.6" y1="542.9" x2="53.8" y2="542.9" stroke="#1c1c1c" stroke-width="1.3"/>
<text x="47" y="546" font-size="8.6" text-anchor="end" font-weight="normal" font-style="normal" fill="#2a2a2a" textLength="8.8" lengthAdjust="spacingAndGlyphs" stroke="#2a2a2a" stroke-width="0.14">40</text>
<line x1="50.6" y1="518.6" x2="53.8" y2="518.6" stroke="#1c1c1c" stroke-width="1.3"/>
<text x="47" y="521.7" font-size="8.6" text-anchor="end" font-weight="normal" font-style="normal" fill="#2a2a2a" textLength="8.8" lengthAdjust="spacingAndGlyphs" stroke="#2a2a2a" stroke-width="0.14">60</text>
<line x1="50.6" y1="494.3" x2="53.8" y2="494.3" stroke="#1c1c1c" stroke-width="1.3"/>
<text x="47" y="497.4" font-size="8.6" text-anchor="end" font-weight="normal" font-style="normal" fill="#2a2a2a" textLength="8.8" lengthAdjust="spacingAndGlyphs" stroke="#2a2a2a" stroke-width="0.14">80</text>
<line x1="50.6" y1="470" x2="53.8" y2="470" stroke="#1c1c1c" stroke-width="1.3"/>
<text x="47" y="473.1" font-size="8.6" text-anchor="end" font-weight="normal" font-style="normal" fill="#2a2a2a" textLength="12.2" lengthAdjust="spacingAndGlyphs" stroke="#2a2a2a" stroke-width="0.14">100</text>
<line x1="59.2" y1="600.2" x2="212" y2="600.2" stroke="#1c1c1c" stroke-width="1.6"/>
<line x1="61.8" y1="600.2" x2="61.8" y2="603.2" stroke="#1c1c1c" stroke-width="1.3"/>
<text x="61.8" y="613.1" font-size="8.6" text-anchor="middle" font-weight="normal" font-style="normal" fill="#2a2a2a" textLength="4.4" lengthAdjust="spacingAndGlyphs" stroke="#2a2a2a" stroke-width="0.14">0</text>
<line x1="85.28" y1="600.2" x2="85.28" y2="603.2" stroke="#1c1c1c" stroke-width="1.3"/>
<text x="85.28" y="613.1" font-size="8.6" text-anchor="middle" font-weight="normal" font-style="normal" fill="#2a2a2a" textLength="4.4" lengthAdjust="spacingAndGlyphs" stroke="#2a2a2a" stroke-width="0.14">5</text>
<line x1="108.77" y1="600.2" x2="108.77" y2="603.2" stroke="#1c1c1c" stroke-width="1.3"/>
<text x="108.77" y="613.1" font-size="8.6" text-anchor="middle" font-weight="normal" font-style="normal" fill="#2a2a2a" textLength="8.8" lengthAdjust="spacingAndGlyphs" stroke="#2a2a2a" stroke-width="0.14">10</text>
<line x1="132.25" y1="600.2" x2="132.25" y2="603.2" stroke="#1c1c1c" stroke-width="1.3"/>
<text x="132.25" y="613.1" font-size="8.6" text-anchor="middle" font-weight="normal" font-style="normal" fill="#2a2a2a" textLength="8.8" lengthAdjust="spacingAndGlyphs" stroke="#2a2a2a" stroke-width="0.14">15</text>
<line x1="155.73" y1="600.2" x2="155.73" y2="603.2" stroke="#1c1c1c" stroke-width="1.3"/>
<text x="155.73" y="613.1" font-size="8.6" text-anchor="middle" font-weight="normal" font-style="normal" fill="#2a2a2a" textLength="8.8" lengthAdjust="spacingAndGlyphs" stroke="#2a2a2a" stroke-width="0.14">20</text>
<line x1="179.22" y1="600.2" x2="179.22" y2="603.2" stroke="#1c1c1c" stroke-width="1.3"/>
<text x="179.22" y="613.1" font-size="8.6" text-anchor="middle" font-weight="normal" font-style="normal" fill="#2a2a2a" textLength="8.8" lengthAdjust="spacingAndGlyphs" stroke="#2a2a2a" stroke-width="0.14">25</text>
<line x1="202.7" y1="600.2" x2="202.7" y2="603.2" stroke="#1c1c1c" stroke-width="1.3"/>
<text x="202.7" y="613.1" font-size="8.6" text-anchor="middle" font-weight="normal" font-style="normal" fill="#2a2a2a" textLength="8.8" lengthAdjust="spacingAndGlyphs" stroke="#2a2a2a" stroke-width="0.14">30</text>
<text x="135.7" y="626.8" font-size="9.4" text-anchor="middle" font-weight="normal" font-style="normal" fill="#2a2a2a" textLength="42" lengthAdjust="spacingAndGlyphs" stroke="#2a2a2a" stroke-width="0.14">Time (mins)</text>
<text x="16" y="524.5" font-size="9" text-anchor="middle" font-weight="normal" font-style="normal" fill="#2a2a2a" textLength="83" lengthAdjust="spacingAndGlyphs" stroke="#2a2a2a" stroke-width="0.14" transform="rotate(-90 16 524.5)">Residual α2-3 Neu-VWF</text>
<text x="27.5" y="522.2" font-size="9" text-anchor="middle" font-weight="normal" font-style="normal" fill="#2a2a2a" textLength="37.3" lengthAdjust="spacingAndGlyphs" stroke="#2a2a2a" stroke-width="0.14" transform="rotate(-90 27.5 522.2)">(% injected)</text>
<polyline points="61.8,470 75.89,507.06 108.77,539.25 155.73,568.17 202.7,573.52" fill="none" stroke="#96123e" stroke-width="1.8" stroke-linejoin="round"/>
<line x1="75.89" y1="501.59" x2="75.89" y2="512.52" stroke="#9a2a4c" stroke-width="1.2"/>
<line x1="73.59" y1="501.59" x2="78.19" y2="501.59" stroke="#9a2a4c" stroke-width="1.3"/>
<line x1="73.59" y1="512.52" x2="78.19" y2="512.52" stroke="#9a2a4c" stroke-width="1.3"/>
<line x1="108.77" y1="537.43" x2="108.77" y2="541.08" stroke="#9a2a4c" stroke-width="1.2"/>
<line x1="106.47" y1="537.43" x2="111.07" y2="537.43" stroke="#9a2a4c" stroke-width="1.3"/>
<line x1="106.47" y1="541.08" x2="111.07" y2="541.08" stroke="#9a2a4c" stroke-width="1.3"/>
<line x1="155.73" y1="563.92" x2="155.73" y2="572.42" stroke="#9a2a4c" stroke-width="1.2"/>
<line x1="153.43" y1="563.92" x2="158.03" y2="563.92" stroke="#9a2a4c" stroke-width="1.3"/>
<line x1="153.43" y1="572.42" x2="158.03" y2="572.42" stroke="#9a2a4c" stroke-width="1.3"/>
<line x1="202.7" y1="564.41" x2="202.7" y2="582.63" stroke="#9a2a4c" stroke-width="1.2"/>
<line x1="200.4" y1="564.41" x2="205" y2="564.41" stroke="#9a2a4c" stroke-width="1.3"/>
<line x1="200.4" y1="582.63" x2="205" y2="582.63" stroke="#9a2a4c" stroke-width="1.3"/>
<path d="M61.8 467.61L64.2 471.8L59.4 471.8Z" fill="#96123e"/>
<path d="M75.89 504.66L78.29 508.85L73.49 508.85Z" fill="#96123e"/>
<path d="M108.77 536.86L111.17 541.05L106.37 541.05Z" fill="#96123e"/>
<path d="M155.73 565.78L158.13 569.97L153.33 569.97Z" fill="#96123e"/>
<path d="M202.7 571.12L205.1 575.31L200.3 575.31Z" fill="#96123e"/>
<polyline points="61.8,470 75.89,508.88 108.77,551.89 155.73,560.15 202.7,579.35" fill="none" stroke="#3e2358" stroke-width="1.8" stroke-linejoin="round"/>
<line x1="75.89" y1="499.16" x2="75.89" y2="518.6" stroke="#46305e" stroke-width="1.2"/>
<line x1="73.59" y1="499.16" x2="78.19" y2="499.16" stroke="#46305e" stroke-width="1.3"/>
<line x1="73.59" y1="518.6" x2="78.19" y2="518.6" stroke="#46305e" stroke-width="1.3"/>
<line x1="108.77" y1="549.46" x2="108.77" y2="554.32" stroke="#46305e" stroke-width="1.2"/>
<line x1="106.47" y1="549.46" x2="111.07" y2="549.46" stroke="#46305e" stroke-width="1.3"/>
<line x1="106.47" y1="554.32" x2="111.07" y2="554.32" stroke="#46305e" stroke-width="1.3"/>
<line x1="202.7" y1="575.1" x2="202.7" y2="583.6" stroke="#46305e" stroke-width="1.2"/>
<line x1="200.4" y1="575.1" x2="205" y2="575.1" stroke="#46305e" stroke-width="1.3"/>
<line x1="200.4" y1="583.6" x2="205" y2="583.6" stroke="#46305e" stroke-width="1.3"/>
<circle cx="61.8" cy="470" r="1.6" fill="#7a6090" stroke="#3e2358" stroke-width="1.2"/>
<circle cx="75.89" cy="508.88" r="1.6" fill="#7a6090" stroke="#3e2358" stroke-width="1.2"/>
<circle cx="108.77" cy="551.89" r="1.6" fill="#7a6090" stroke="#3e2358" stroke-width="1.2"/>
<circle cx="155.73" cy="560.15" r="1.6" fill="#7a6090" stroke="#3e2358" stroke-width="1.2"/>
<circle cx="202.7" cy="579.35" r="1.6" fill="#7a6090" stroke="#3e2358" stroke-width="1.2"/>
<circle cx="61.8" cy="470" r="2.1" fill="#3e2358"/>
<line x1="141.4" y1="510.5" x2="151.3" y2="510.5" stroke="#96123e" stroke-width="2.1"/>
<path d="M146.35 507.99L148.85 512.38L143.85 512.38Z" fill="#96123e"/>
<text x="154.9" y="512.7" font-size="8" font-style="italic" fill="#111" stroke="#111" stroke-width="0.15" textLength="18.2" lengthAdjust="spacingAndGlyphs">Asgr1</text><text x="173.3" y="510.5" font-size="5.6" font-style="italic" fill="#222" textLength="7" lengthAdjust="spacingAndGlyphs">-/-</text>
<line x1="141.4" y1="524.2" x2="151.3" y2="524.2" stroke="#3e2358" stroke-width="2.1"/>
<circle cx="146.35" cy="524.2" r="1.7" fill="#8a70a0" stroke="#3e2358" stroke-width="1.2"/>
<text x="154.9" y="526.4" font-size="8" font-style="italic" fill="#111" stroke="#111" stroke-width="0.15" textLength="18.2" lengthAdjust="spacingAndGlyphs">Asgr1</text><text x="173.3" y="523.6" font-size="5.6" font-style="italic" fill="#222" textLength="10.2" lengthAdjust="spacingAndGlyphs">+/+</text>
<text x="278.5" y="455" font-size="11.5" text-anchor="start" font-weight="bold" font-style="normal" fill="#000" textLength="7" lengthAdjust="spacingAndGlyphs">E</text>
<line x1="326.9" y1="458.5" x2="326.9" y2="594.3" stroke="#1c1c1c" stroke-width="1.6"/>
<line x1="323.7" y1="591.5" x2="326.9" y2="591.5" stroke="#1c1c1c" stroke-width="1.3"/>
<text x="320.1" y="594.6" font-size="8.6" text-anchor="end" font-weight="normal" font-style="normal" fill="#2a2a2a" textLength="4.4" lengthAdjust="spacingAndGlyphs" stroke="#2a2a2a" stroke-width="0.14">0</text>
<line x1="323.7" y1="567.26" x2="326.9" y2="567.26" stroke="#1c1c1c" stroke-width="1.3"/>
<text x="320.1" y="570.36" font-size="8.6" text-anchor="end" font-weight="normal" font-style="normal" fill="#2a2a2a" textLength="8.8" lengthAdjust="spacingAndGlyphs" stroke="#2a2a2a" stroke-width="0.14">20</text>
<line x1="323.7" y1="543.02" x2="326.9" y2="543.02" stroke="#1c1c1c" stroke-width="1.3"/>
<text x="320.1" y="546.12" font-size="8.6" text-anchor="end" font-weight="normal" font-style="normal" fill="#2a2a2a" textLength="8.8" lengthAdjust="spacingAndGlyphs" stroke="#2a2a2a" stroke-width="0.14">40</text>
<line x1="323.7" y1="518.78" x2="326.9" y2="518.78" stroke="#1c1c1c" stroke-width="1.3"/>
<text x="320.1" y="521.88" font-size="8.6" text-anchor="end" font-weight="normal" font-style="normal" fill="#2a2a2a" textLength="8.8" lengthAdjust="spacingAndGlyphs" stroke="#2a2a2a" stroke-width="0.14">60</text>
<line x1="323.7" y1="494.54" x2="326.9" y2="494.54" stroke="#1c1c1c" stroke-width="1.3"/>
<text x="320.1" y="497.64" font-size="8.6" text-anchor="end" font-weight="normal" font-style="normal" fill="#2a2a2a" textLength="8.8" lengthAdjust="spacingAndGlyphs" stroke="#2a2a2a" stroke-width="0.14">80</text>
<line x1="323.7" y1="470.3" x2="326.9" y2="470.3" stroke="#1c1c1c" stroke-width="1.3"/>
<text x="320.1" y="473.4" font-size="8.6" text-anchor="end" font-weight="normal" font-style="normal" fill="#2a2a2a" textLength="12.2" lengthAdjust="spacingAndGlyphs" stroke="#2a2a2a" stroke-width="0.14">100</text>
<line x1="332.3" y1="600.2" x2="483.5" y2="600.2" stroke="#1c1c1c" stroke-width="1.6"/>
<line x1="335.2" y1="600.2" x2="335.2" y2="603.2" stroke="#1c1c1c" stroke-width="1.3"/>
<text x="335.2" y="613.6" font-size="8.6" text-anchor="middle" font-weight="normal" font-style="normal" fill="#2a2a2a" textLength="4.4" lengthAdjust="spacingAndGlyphs" stroke="#2a2a2a" stroke-width="0.14">0</text>
<line x1="358.58" y1="600.2" x2="358.58" y2="603.2" stroke="#1c1c1c" stroke-width="1.3"/>
<text x="358.58" y="613.6" font-size="8.6" text-anchor="middle" font-weight="normal" font-style="normal" fill="#2a2a2a" textLength="4.4" lengthAdjust="spacingAndGlyphs" stroke="#2a2a2a" stroke-width="0.14">5</text>
<line x1="381.97" y1="600.2" x2="381.97" y2="603.2" stroke="#1c1c1c" stroke-width="1.3"/>
<text x="381.97" y="613.6" font-size="8.6" text-anchor="middle" font-weight="normal" font-style="normal" fill="#2a2a2a" textLength="8.8" lengthAdjust="spacingAndGlyphs" stroke="#2a2a2a" stroke-width="0.14">10</text>
<line x1="405.35" y1="600.2" x2="405.35" y2="603.2" stroke="#1c1c1c" stroke-width="1.3"/>
<text x="405.35" y="613.6" font-size="8.6" text-anchor="middle" font-weight="normal" font-style="normal" fill="#2a2a2a" textLength="8.8" lengthAdjust="spacingAndGlyphs" stroke="#2a2a2a" stroke-width="0.14">15</text>
<line x1="428.73" y1="600.2" x2="428.73" y2="603.2" stroke="#1c1c1c" stroke-width="1.3"/>
<text x="428.73" y="613.6" font-size="8.6" text-anchor="middle" font-weight="normal" font-style="normal" fill="#2a2a2a" textLength="8.8" lengthAdjust="spacingAndGlyphs" stroke="#2a2a2a" stroke-width="0.14">20</text>
<line x1="452.12" y1="600.2" x2="452.12" y2="603.2" stroke="#1c1c1c" stroke-width="1.3"/>
<text x="452.12" y="613.6" font-size="8.6" text-anchor="middle" font-weight="normal" font-style="normal" fill="#2a2a2a" textLength="8.8" lengthAdjust="spacingAndGlyphs" stroke="#2a2a2a" stroke-width="0.14">25</text>
<line x1="475.5" y1="600.2" x2="475.5" y2="603.2" stroke="#1c1c1c" stroke-width="1.3"/>
<text x="475.5" y="613.6" font-size="8.6" text-anchor="middle" font-weight="normal" font-style="normal" fill="#2a2a2a" textLength="8.8" lengthAdjust="spacingAndGlyphs" stroke="#2a2a2a" stroke-width="0.14">30</text>
<text x="408.4" y="626" font-size="9.4" text-anchor="middle" font-weight="normal" font-style="normal" fill="#2a2a2a" textLength="42" lengthAdjust="spacingAndGlyphs" stroke="#2a2a2a" stroke-width="0.14">Time (mins)</text>
<text x="288.4" y="525" font-size="9" text-anchor="middle" font-weight="normal" font-style="normal" fill="#2a2a2a" textLength="105" lengthAdjust="spacingAndGlyphs" stroke="#2a2a2a" stroke-width="0.14" transform="rotate(-90 288.4 525)">Residual α2-3,6,8,9 Neu-VWF</text>
<text x="300.3" y="524.7" font-size="9" text-anchor="middle" font-weight="normal" font-style="normal" fill="#2a2a2a" textLength="39.6" lengthAdjust="spacingAndGlyphs" stroke="#2a2a2a" stroke-width="0.14" transform="rotate(-90 300.3 524.7)">(% injected)</text>
<polyline points="335.2,470.3 349.23,536.96 381.97,571.74 428.73,584.47 475.5,590.77" fill="none" stroke="#2c4478" stroke-width="1.8" stroke-linejoin="round"/>
<line x1="349.23" y1="533.32" x2="349.23" y2="540.6" stroke="#4a5a9a" stroke-width="1.2"/>
<line x1="346.93" y1="533.32" x2="351.53" y2="533.32" stroke="#4a5a9a" stroke-width="1.3"/>
<line x1="346.93" y1="540.6" x2="351.53" y2="540.6" stroke="#4a5a9a" stroke-width="1.3"/>
<line x1="381.97" y1="569.93" x2="381.97" y2="573.56" stroke="#4a5a9a" stroke-width="1.2"/>
<line x1="379.67" y1="569.93" x2="384.27" y2="569.93" stroke="#4a5a9a" stroke-width="1.3"/>
<line x1="379.67" y1="573.56" x2="384.27" y2="573.56" stroke="#4a5a9a" stroke-width="1.3"/>
<line x1="428.73" y1="580.23" x2="428.73" y2="588.71" stroke="#4a5a9a" stroke-width="1.2"/>
<line x1="426.43" y1="580.23" x2="431.03" y2="580.23" stroke="#4a5a9a" stroke-width="1.3"/>
<line x1="426.43" y1="588.71" x2="431.03" y2="588.71" stroke="#4a5a9a" stroke-width="1.3"/>
<path d="M335.2 468.02L337.5 472.01L332.9 472.01Z" fill="#2c4478"/>
<path d="M349.23 534.68L351.53 538.67L346.93 538.67Z" fill="#2c4478"/>
<path d="M381.97 569.46L384.27 573.45L379.67 573.45Z" fill="#2c4478"/>
<path d="M428.73 582.19L431.03 586.18L426.43 586.18Z" fill="#2c4478"/>
<path d="M475.5 588.49L477.8 592.48L473.2 592.48Z" fill="#2c4478"/>
<polyline points="335.2,470.3 349.23,546.9 381.97,567.38 428.73,584.47 475.5,590.77" fill="none" stroke="#432a72" stroke-width="1.8" stroke-linejoin="round"/>
<line x1="349.23" y1="541.44" x2="349.23" y2="552.35" stroke="#6a4a80" stroke-width="1.2"/>
<line x1="346.93" y1="541.44" x2="351.53" y2="541.44" stroke="#6a4a80" stroke-width="1.3"/>
<line x1="346.93" y1="552.35" x2="351.53" y2="552.35" stroke="#6a4a80" stroke-width="1.3"/>
<line x1="381.97" y1="565.56" x2="381.97" y2="569.2" stroke="#6a4a80" stroke-width="1.2"/>
<line x1="379.67" y1="565.56" x2="384.27" y2="565.56" stroke="#6a4a80" stroke-width="1.3"/>
<line x1="379.67" y1="569.2" x2="384.27" y2="569.2" stroke="#6a4a80" stroke-width="1.3"/>
<line x1="428.73" y1="580.11" x2="428.73" y2="588.83" stroke="#6a4a80" stroke-width="1.2"/>
<line x1="426.43" y1="580.11" x2="431.03" y2="580.11" stroke="#6a4a80" stroke-width="1.3"/>
<line x1="426.43" y1="588.83" x2="431.03" y2="588.83" stroke="#6a4a80" stroke-width="1.3"/>
<circle cx="335.2" cy="470.3" r="1.6" fill="#6a5090" stroke="#432a72" stroke-width="1.2"/>
<circle cx="349.23" cy="546.9" r="1.6" fill="#6a5090" stroke="#432a72" stroke-width="1.2"/>
<circle cx="381.97" cy="567.38" r="1.6" fill="#6a5090" stroke="#432a72" stroke-width="1.2"/>
<circle cx="428.73" cy="584.47" r="1.6" fill="#6a5090" stroke="#432a72" stroke-width="1.2"/>
<circle cx="475.5" cy="590.77" r="1.6" fill="#6a5090" stroke="#432a72" stroke-width="1.2"/>
<circle cx="335.2" cy="470.3" r="2.1" fill="#3a2458"/>
<line x1="423.8" y1="519.7" x2="433.5" y2="519.7" stroke="#2c4478" stroke-width="2.1"/>
<path d="M428.65 517.31L431.05 521.5L426.25 521.5Z" fill="#2c4478"/>
<text x="436.8" y="521.9" font-size="8" font-style="italic" fill="#111" stroke="#111" stroke-width="0.15" textLength="19.7" lengthAdjust="spacingAndGlyphs">Asgr1</text><text x="456.7" y="519.4" font-size="5.6" font-style="italic" fill="#222" textLength="5.8" lengthAdjust="spacingAndGlyphs">-/-</text>
<line x1="423.8" y1="530.5" x2="433.5" y2="530.5" stroke="#432a72" stroke-width="2.1"/>
<circle cx="428.65" cy="530.5" r="1.7" fill="#8a70a0" stroke="#432a72" stroke-width="1.2"/>
<text x="436.8" y="532.7" font-size="8" font-style="italic" fill="#111" stroke="#111" stroke-width="0.15" textLength="19.7" lengthAdjust="spacingAndGlyphs">Asgr1</text><text x="456.7" y="530.8" font-size="5.6" font-style="italic" fill="#222" textLength="9.2" lengthAdjust="spacingAndGlyphs">+/+</text>
<rect x="0" y="0" width="1.6" height="636" fill="#000"/>
<rect x="0" y="0" width="520" height="1.6" fill="#000"/>
<rect x="518.2" y="0" width="1.8" height="636" fill="#000"/>
<rect x="0" y="634.2" width="520" height="1.8" fill="#000"/>
</svg>
</body></html>
